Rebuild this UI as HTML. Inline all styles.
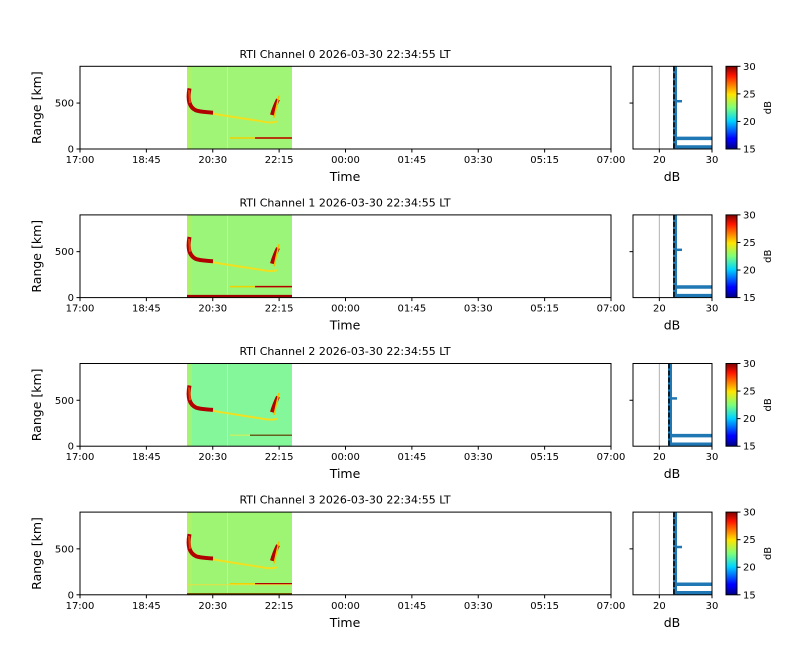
<!DOCTYPE html>
<html><head><meta charset="utf-8"><style>
body{margin:0;background:#fff}
svg{display:block;font-family:"DejaVu Sans","Liberation Sans",sans-serif}
</style></head><body>
<svg id="s" width="800" height="660" xmlns="http://www.w3.org/2000/svg">
<defs>
<linearGradient id="jet" x1="0" y1="1" x2="0" y2="0">
<stop offset="0" stop-color="#00007f"/><stop offset="0.11" stop-color="#0000ff"/>
<stop offset="0.125" stop-color="#0000ff"/><stop offset="0.34" stop-color="#00d4ff"/>
<stop offset="0.5" stop-color="#7dff7a"/><stop offset="0.66" stop-color="#ffe600"/>
<stop offset="0.89" stop-color="#ff1300"/><stop offset="1" stop-color="#7f0000"/>
</linearGradient>
</defs>
</svg>
<script>
const s=document.getElementById('s');let h='';
const fills=['#a0f576','#9af578','#84f79a','#9ef574'];
const pxs=[675,675,670,675];
const ticks=['17:00','18:45','20:30','22:15','00:00','01:45','03:30','05:15','07:00'];
for(let p=0;p<4;p++){
 const T=66.3+p*148.6,B=T+82.7,L=80,R=611;
 const y=r=>B-(r/900)*(B-T);
 h+=`<text x="345" y="${T-8.5}" font-size="11" text-anchor="middle">RTI Channel ${p} 2026-03-30 22:34:55 LT</text>`;
 h+=`<rect x="187" y="${T}" width="105" height="${B-T}" fill="${fills[p]}"/>`;
 h+=`<rect x="187" y="${T}" width="5" height="${B-T}" fill="#b8f060" opacity="0.6"/>`;
 h+=`<line x1="227.5" y1="${T}" x2="227.5" y2="${B}" stroke="#e8f060" stroke-width="1"/>`;
 h+=`<path d="M190 ${y(650)} C187 ${y(500)} 192 ${y(430)} 205 ${y(400)} C225 ${y(360)} 245 ${y(330)} 262 ${y(300)} C268 ${y(285)} 273 ${y(285)} 277 ${y(300)}" fill="none" stroke="#f0e020" stroke-width="2"/>`;
 h+=`<path d="M189.5 ${y(660)} C187 ${y(520)} 190 ${y(450)} 196 ${y(420)} C200 ${y(405)} 206 ${y(400)} 213 ${y(395)}" fill="none" stroke="#b00000" stroke-width="4"/>`;
 h+=`<path d="M189 ${y(640)} L190 ${y(500)}" stroke="#e04000" stroke-width="2"/>`;
 h+=`<path d="M272 ${y(370)} Q274 ${y(450)} 278 ${y(540)}" fill="none" stroke="#b00000" stroke-width="4"/>`;
 h+=`<path d="M274 ${y(340)} L279 ${y(580)}" stroke="#f0c000" stroke-width="1.5"/>`;
 if(p!=2){h+=`<line x1="230" y1="${y(120)}" x2="292" y2="${y(120)}" stroke="#f0d000" stroke-width="1.5"/><line x1="255" y1="${y(120)}" x2="292" y2="${y(120)}" stroke="#b00000" stroke-width="1.5"/>`;}
 else{h+=`<line x1="230" y1="${y(120)}" x2="292" y2="${y(120)}" stroke="#e0f050" stroke-width="1"/><line x1="250" y1="${y(120)}" x2="292" y2="${y(120)}" stroke="#503000" stroke-width="1.2"/>`;}
 if(p==1)h+=`<line x1="187" y1="${B-1.5}" x2="292" y2="${B-1.5}" stroke="#a00000" stroke-width="2.5"/>`;
 if(p==3)h+=`<line x1="187" y1="${B-1}" x2="292" y2="${B-1}" stroke="#705000" stroke-width="1.5"/><line x1="187" y1="${y(110)}" x2="292" y2="${y(110)}" stroke="#e8e040" stroke-width="1"/>`;
 h+=`<rect x="${L}" y="${T}" width="${R-L}" height="${B-T}" fill="none" stroke="#000" stroke-width="1"/>`;
 for(let i=0;i<9;i++){const x=L+i*(R-L)/8;h+=`<line x1="${x}" y1="${B}" x2="${x}" y2="${B+3.5}" stroke="#000"/><text x="${x}" y="${B+14}" font-size="10" text-anchor="middle">${ticks[i]}</text>`;}
 for(const r of [0,500]){h+=`<line x1="${L-3.5}" y1="${y(r)}" x2="${L}" y2="${y(r)}" stroke="#000"/><text x="${L-6}" y="${y(r)+3.5}" font-size="10" text-anchor="end">${r}</text>`;}
 h+=`<text x="345" y="${B+32}" font-size="12.5" text-anchor="middle">Time</text>`;
 h+=`<text transform="translate(41 ${(T+B)/2}) rotate(-90)" font-size="12.5" text-anchor="middle">Range [km]</text>`;
 const PL=633,PR=712,dx=d=>PL+(d-15)/15*(PR-PL),px=pxs[p];
 h+=`<line x1="${dx(20)}" y1="${T}" x2="${dx(20)}" y2="${B}" stroke="#b0b0b0"/>`;
 h+=`<line x1="${px}" y1="${T}" x2="${px}" y2="${B}" stroke="#1f77b4" stroke-width="4"/>`;
 h+=`<line x1="${px}" y1="${y(520)}" x2="${px+7}" y2="${y(520)}" stroke="#1f77b4" stroke-width="2.5"/>`;
 h+=`<line x1="${px}" y1="${y(115)}" x2="${PR}" y2="${y(115)}" stroke="#1f77b4" stroke-width="3.5"/>`;
 h+=`<line x1="${px}" y1="${B-2}" x2="${PR}" y2="${B-2}" stroke="#1f77b4" stroke-width="3.5"/>`;
 h+=`<line x1="${px-1}" y1="${T}" x2="${px-1}" y2="${B}" stroke="#000" stroke-width="1.5" stroke-dasharray="5,2"/>`;
 h+=`<rect x="${PL}" y="${T}" width="${PR-PL}" height="${B-T}" fill="none" stroke="#000"/>`;
 h+=`<line x1="${PL-3.5}" y1="${y(500)}" x2="${PL}" y2="${y(500)}" stroke="#000"/>`;
 for(const d of [20,30]){h+=`<line x1="${dx(d)}" y1="${B}" x2="${dx(d)}" y2="${B+3.5}" stroke="#000"/><text x="${dx(d)}" y="${B+14}" font-size="10" text-anchor="middle">${d}</text>`;}
 h+=`<text x="672" y="${B+32}" font-size="12.5" text-anchor="middle">dB</text>`;
 h+=`<rect x="726" y="${T}" width="11" height="${B-T}" fill="url(#jet)" stroke="#000"/>`;
 for(const v of [15,20,25,30]){const yy=B-(v-15)/15*(B-T);h+=`<line x1="737" y1="${yy}" x2="740.5" y2="${yy}" stroke="#000"/><text x="743" y="${yy+3.5}" font-size="10">${v}</text>`;}
 h+=`<text transform="translate(771 ${(T+B)/2}) rotate(-90)" font-size="10" text-anchor="middle">dB</text>`;
}
s.insertAdjacentHTML('beforeend',h);
</script>
</body></html>
